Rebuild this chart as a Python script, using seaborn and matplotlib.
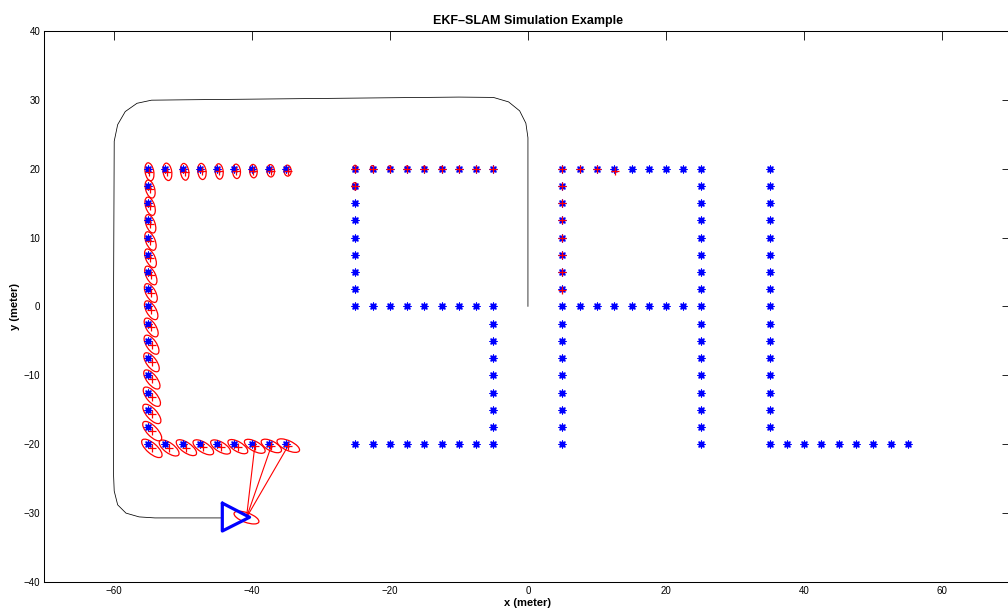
import numpy as np
import pandas as pd
import matplotlib
matplotlib.use("Agg")
import matplotlib.pyplot as plt
from matplotlib.patches import Ellipse
import seaborn as sns

# ---------------------------------------------------------------------------
# Landmark map (true positions), one list per stroke of the letters C S A L
# ---------------------------------------------------------------------------
c_row_x = [-55, -52.5, -50, -47.5, -45, -42.5, -40, -37.5, -35]
c_col_y = [17.5, 15, 12.5, 10, 7.5, 5, 2.5, 0, -2.5, -5, -7.5, -10, -12.5, -15, -17.5]

s_row_x = [-25, -22.5, -20, -17.5, -15, -12.5, -10, -7.5, -5]
s_left_y = [17.5, 15, 12.5, 10, 7.5, 5, 2.5]
s_right_y = [-2.5, -5, -7.5, -10, -12.5, -15, -17.5]

a_col_y = [20, 17.5, 15, 12.5, 10, 7.5, 5, 2.5, 0, -2.5, -5, -7.5, -10, -12.5, -15, -17.5, -20]
a_bar_x = [7.5, 10, 12.5, 15, 17.5, 20, 22.5]

l_col_y = [20, 17.5, 15, 12.5, 10, 7.5, 5, 2.5, 0, -2.5, -5, -7.5, -10, -12.5, -15, -17.5, -20]
l_row_x = [37.5, 40, 42.5, 45, 47.5, 50, 52.5, 55]

# ---------------------------------------------------------------------------
# Estimated landmarks with their 1-sigma ellipses (full axes, angle in deg)
# ---------------------------------------------------------------------------
# C: top row (x = -55 ... -35, y = 20)
c_top_est_x = [-54.8, -52.2, -49.7, -47.2, -44.7, -42.2, -39.75, -37.25, -34.8]
c_top_est_y = [19.55, 19.55, 19.55, 19.6, 19.6, 19.62, 19.65, 19.7, 19.72]
c_top_major = [2.65, 2.55, 2.45, 2.35, 2.25, 2.1, 1.95, 1.8, 1.6]
c_top_minor = [1.25, 1.25, 1.2, 1.2, 1.15, 1.15, 1.1, 1.1, 1.05]
c_top_angle = [100, 99, 98, 97, 96, 95, 95, 94, 94]

# C: left column (x = -55, y = 17.5 ... -17.5)
c_col_est_x = [-54.7, -54.7, -54.65, -54.65, -54.65, -54.6, -54.6, -54.55,
               -54.55, -54.5, -54.5, -54.45, -54.45, -54.45, -54.4]
c_col_est_y = [17.05, 14.55, 12.0, 9.5, 7.0, 4.5, 1.95, -0.55,
               -3.05, -5.55, -8.1, -10.6, -13.1, -15.6, -18.1]
c_col_major = [2.7, 2.75, 2.8, 2.85, 2.9, 2.95, 3.0, 3.05, 3.1, 3.2, 3.25, 3.35, 3.45, 3.55, 3.65]
c_col_minor = [1.3, 1.3, 1.3, 1.35, 1.35, 1.35, 1.4, 1.4, 1.4, 1.45, 1.45, 1.45, 1.5, 1.5, 1.5]
c_col_angle = [106, 108, 110, 112, 114, 116, 118, 120, 122, 124, 126, 128, 130, 132, 134]

# C: bottom row (x = -55 ... -35, y = -20)
c_bot_est_x = [-54.45, -51.95, -49.45, -47.0, -44.5, -42.0, -39.55, -37.15, -34.7]
c_bot_est_y = [-20.6, -20.55, -20.5, -20.45, -20.4, -20.35, -20.3, -20.25, -20.2]
c_bot_major = [3.7, 3.4, 3.45, 3.4, 3.25, 3.25, 3.35, 3.25, 3.55]
c_bot_minor = [1.5, 1.45, 1.45, 1.45, 1.4, 1.4, 1.4, 1.4, 1.4]
c_bot_angle = [-41, -36, -35, -32, -31, -31, -29, -28, -25]

# S: corner of the top row and the upper part of the left stroke
s_est_x = [-25.0, -25.05, -22.5, -20.0, -17.5, -15.0, -12.5, -10.0, -7.5, -5.0]
s_est_y = [20.0, 17.45, 20.0, 20.0, 20.0, 20.0, 20.0, 20.0, 20.0, 20.0]
s_major = [1.0, 1.05, 0.9, 0.85, 0.8, 0.75, 0.65, 0.55, 0.45, 0.35]
s_minor = [0.65, 0.75, 0.6, 0.55, 0.55, 0.5, 0.45, 0.4, 0.35, 0.3]
s_angle = [95, 95, 95, 95, 95, 95, 95, 95, 95, 95]

# A: start of the top bar and the upper left stroke
a_est_x = [5.0, 7.5, 10.0, 12.65, 5.0, 5.0, 5.0, 5.0, 5.0, 5.0, 5.0]
a_est_y = [20.0, 20.0, 20.0, 19.7, 17.5, 15.0, 12.5, 10.0, 7.5, 5.0, 2.4]

# Vehicle trajectory (estimated), vehicle pose and current observations
path_x = [0.0, 0.0, -0.3, -1.2, -2.8, -5.0, -10.0, -20.0, -30.0, -40.0, -50.0,
          -54.5, -56.6, -58.3, -59.4, -59.9, -60.0, -60.0, -59.9, -59.4,
          -58.2, -56.3, -54.0, -50.0, -44.3]
path_y = [0.0, 24.5, 26.6, 28.4, 29.7, 30.35, 30.4, 30.3, 30.2, 30.1, 30.0,
          29.95, 29.5, 28.3, 26.4, 24.0, 0.0, -24.3, -26.8, -28.8,
          -30.0, -30.55, -30.7, -30.7, -30.7]

robot_tri_x = [-44.25, -44.25, -40.3, -44.25]
robot_tri_y = [-28.55, -32.6, -30.6, -28.55]
robot_x, robot_y = -40.75, -30.65
robot_major, robot_minor, robot_angle = 3.8, 1.4, -20
observed_x = [-39.55, -37.15, -34.7]
observed_y = [-20.3, -20.25, -20.2]

x_ticks = [-60, -40, -20, 0, 20, 40, 60]
y_ticks = [-40, -30, -20, -10, 0, 10, 20, 30, 40]

# ---------------------------------------------------------------------------
# Assemble tables
# ---------------------------------------------------------------------------
lm_x, lm_y = [], []
for x in c_row_x:
    lm_x += [x, x]; lm_y += [20, -20]
for y in c_col_y:
    lm_x.append(-55); lm_y.append(y)
for x in s_row_x:
    lm_x += [x, x, x]; lm_y += [20, 0, -20]
for y in s_left_y:
    lm_x.append(-25); lm_y.append(y)
for y in s_right_y:
    lm_x.append(-5); lm_y.append(y)
for y in a_col_y:
    lm_x += [5, 25]; lm_y += [y, y]
for x in a_bar_x:
    lm_x += [x, x]; lm_y += [20, 0]
for y in l_col_y:
    lm_x.append(35); lm_y.append(y)
for x in l_row_x:
    lm_x.append(x); lm_y.append(-20)
landmarks = pd.DataFrame({"x": lm_x, "y": lm_y})

est = pd.DataFrame({
    "x": c_top_est_x + c_col_est_x + c_bot_est_x + s_est_x,
    "y": c_top_est_y + c_col_est_y + c_bot_est_y + s_est_y,
    "major": c_top_major + c_col_major + c_bot_major + s_major,
    "minor": c_top_minor + c_col_minor + c_bot_minor + s_minor,
    "angle": c_top_angle + c_col_angle + c_bot_angle + s_angle,
})
est_all = pd.DataFrame({"x": list(est["x"]) + a_est_x,
                        "y": list(est["y"]) + a_est_y})
path = pd.DataFrame({"x": path_x, "y": path_y})
robot = pd.DataFrame({"x": robot_tri_x, "y": robot_tri_y})

# ---------------------------------------------------------------------------
# Figure
# ---------------------------------------------------------------------------
sns.set_theme(style="white")
plt.rcParams["font.family"] = ["Liberation Sans", "DejaVu Sans"]
plt.rcParams["axes.unicode_minus"] = True
for key in ("text.color", "axes.labelcolor", "xtick.color", "ytick.color",
            "axes.edgecolor"):
    plt.rcParams[key] = "black"

fig = plt.figure(figsize=(10.08, 6.13), dpi=100)
ax = fig.add_axes([0.0441, 0.0506, 0.9593, 0.8989])

# trajectory
sns.lineplot(data=path, x="x", y="y", sort=False, estimator=None,
             color="black", linewidth=0.55, ax=ax, zorder=2)

# uncertainty ellipses of estimated landmarks
for _, r in est.iterrows():
    ax.add_patch(Ellipse((r["x"], r["y"]), r["major"], r["minor"], angle=r["angle"],
                         fill=False, edgecolor="red", linewidth=0.9, zorder=3))

# observation rays
for ox, oy in zip(observed_x, observed_y):
    sns.lineplot(x=[robot_x, ox], y=[robot_y, oy], sort=False, estimator=None,
                 color="red", linewidth=0.8, ax=ax, zorder=3)

# vehicle ellipse and pose
ax.add_patch(Ellipse((robot_x, robot_y), robot_major, robot_minor, angle=robot_angle,
                     fill=False, edgecolor="red", linewidth=0.9, zorder=3))
sns.lineplot(data=robot, x="x", y="y", sort=False, estimator=None,
             color="blue", linewidth=2.3, ax=ax, zorder=5)

# true landmarks
sns.scatterplot(data=landmarks, x="x", y="y", marker=(8, 2, 0), s=24,
                color="blue", linewidth=0.95, ax=ax, zorder=4)
# estimated landmarks
sns.scatterplot(data=est_all, x="x", y="y", marker="+", s=30,
                color="red", linewidth=0.9, ax=ax, zorder=4)

ax.set_xlim(-70, 70)
ax.set_ylim(-40, 40)
ax.set_xticks(x_ticks)
ax.set_yticks(y_ticks)
ax.tick_params(direction="in", length=6.8, width=0.6, top=True, right=True,
               labelsize=7, pad=3, colors="black")
for sp in ax.spines.values():
    sp.set_visible(True)
    sp.set_color("black")
    sp.set_linewidth(0.75)

ax.set_title("EKF\u2013SLAM Simulation Example", fontsize=9, fontweight="bold", pad=5)
ax.set_xlabel("x (meter)", fontsize=8, fontweight="bold", labelpad=1)
ax.set_ylabel("y (meter)", fontsize=8, fontweight="bold", labelpad=3)

fig.savefig("out.png", dpi=100)
